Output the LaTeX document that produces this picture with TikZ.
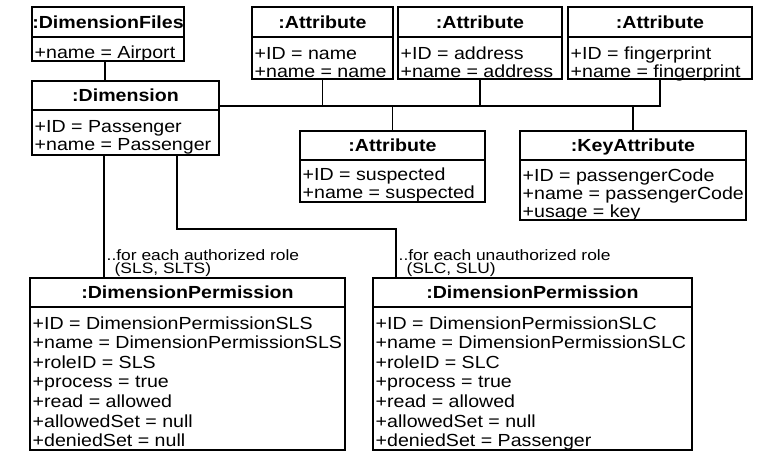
\documentclass[tikz,border=0pt]{standalone}
\usepackage{fontspec}
\setmainfont[FakeStretch=1.12]{Liberation Sans}
\newfontfamily\notefont[FakeStretch=1.16]{Liberation Sans}
\usetikzlibrary{fit}

\tikzset{
  frame/.style={draw, line width=1.8pt, inner sep=0pt},
  divider/.style={line width=1.4pt},
  wire/.style={draw, line width=1.8pt},
  classtitle/.style={font=\fontsize{17.5}{18}\bfseries, inner sep=0pt, text height=12.5pt, text depth=0pt},
  attrrow/.style={font=\fontsize{17.5}{18}\selectfont, inner sep=0pt, anchor=base west},
  note/.style={font=\notefont\fontsize{15}{13.5}\selectfont, inner sep=0pt, align=left, anchor=north west},
}

% object box: #1 name, #2 left, #3 top, #4 right, #5 bottom,
% #6 divider y, #7 title, #8 first baseline, #9 attribute rows
\def\rowgap{18}
\newcommand\umlobject[9]{%
  \node[frame, fit={(#2,#3) (#4,#5)}] (#1) {};
  \draw[divider] (#2,#6) -- (#4,#6);
  \node[classtitle] (#1-title) at ({(#2+#4)/2},{(#3+#6)/2}) {#7};
  \foreach \txt [count=\k] in {#9}
    \node[attrrow] (#1-row\k) at (#2+2.5,{#8+(\k-1)*\rowgap}) {\txt};
}

\begin{document}
\begin{tikzpicture}[x=1pt,y=-1pt]
\fill[white] (0,0) rectangle (766,453);
\useasboundingbox (0,0) rectangle (766,453);

% top row
\umlobject{dimfiles}{32}{7}{184}{61}{37}{:DimensionFiles}{58}{+name = Airport}
\umlobject{attrName}{252}{7}{393}{79}{37}{:Attribute}{59}{+ID = name,+name = name}
\umlobject{attrAddr}{398}{7}{562}{79}{37}{:Attribute}{59}{+ID = address,+name = address}
\umlobject{attrFP}{568}{7}{752}{79}{37}{:Attribute}{59}{+ID = fingerprint,+name = fingerprint}

% dimension and its attribute bus
\umlobject{dimension}{32}{81}{219}{155}{110}{:Dimension}{132}{+ID = Passenger,+name = Passenger}
\umlobject{attrSusp}{300}{131}{485}{202}{160}{:Attribute}{180}{+ID = suspected,+name = suspected}
\umlobject{keyAttr}{520}{131}{746}{220}{160}{:KeyAttribute}{181}{+ID = passengerCode,+name = passengerCode,+usage = key}

% permissions
\def\rowgap{19.6}
\umlobject{dpSLS}{30}{278}{345}{450}{307}{:DimensionPermission}{329}{+ID = DimensionPermissionSLS,+name = DimensionPermissionSLS,+roleID = SLS,+process = true,+read = allowed,+allowedSet = null,+deniedSet = null}
\umlobject{dpSLC}{373}{278}{692}{450}{307}{:DimensionPermission}{329}{+ID = DimensionPermissionSLC,+name = DimensionPermissionSLC,+roleID = SLC,+process = true,+read = allowed,+allowedSet = null,+deniedSet = Passenger}

% connectors
\coordinate (bus) at (0,106);
\coordinate (elbow) at (0,229);
\draw[wire] ([xshift=-3pt]dimfiles.south) -- ([xshift=-3pt]dimfiles.south |- dimension.north);
\draw[wire] (dimension.east |- bus) -| (attrFP.south);
\draw[wire] (attrName.south) -- (attrName.south |- bus);
\draw[wire] (attrAddr.south) -- (attrAddr.south |- bus);
\draw[wire] (attrSusp.north |- bus) -- (attrSusp.north);
\draw[wire] (keyAttr.north |- bus) -- (keyAttr.north);
\draw[wire] ([xshift=73pt]dimension.south west) -- ([xshift=73pt]dimension.south west |- dpSLS.north);
\draw[wire] ([xshift=146pt]dimension.south west) |- ([xshift=24pt]dpSLC.north west |- elbow) -- ([xshift=24pt]dpSLC.north west);

% role notes
\node[note] (authNote) at (106.5,249) {..for each authorized role\\\hspace*{8pt}(SLS, SLTS)};
\node[note] (unauthNote) at (398.5,249) {..for each unauthorized role\\\hspace*{8pt}(SLC, SLU)};
\end{tikzpicture}
\end{document}
